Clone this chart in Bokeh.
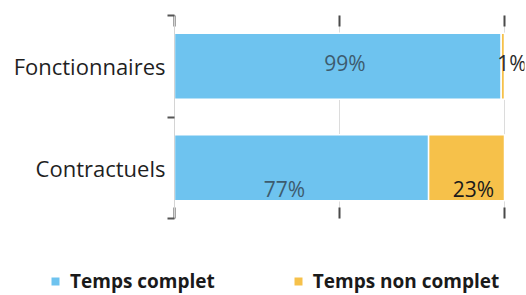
from bokeh.plotting import figure
from bokeh.models import (ColumnDataSource, FixedTicker, LinearAxis, Legend, LegendItem,
                          LabelSet, Range1d)
from bokeh.layouts import column, row
from bokeh.core.properties import value
from bokeh.embed import file_html
from bokeh.resources import INLINE

# ---- data ----
categories = ["Contractuels", "Fonctionnaires"]   # bottom to top
temps_complet = [77, 99]
temps_non_complet = [23, 1]
series_names = ["Temps complet", "Temps non complet"]
x_ticks = [0, 50, 100]

BLUE = "#6EC3EF"
YELLOW = "#F6C14A"
FONT = "Open Sans"

FRAME_W = 350
AXIS_W = 330  # pixels between 0 and 100

ypos = [i + 0.5 for i in range(len(categories))]
src = ColumnDataSource(dict(y=ypos, cat=categories,
                            full=temps_complet, part=temps_non_complet))

p = figure(width=526, height=230, frame_width=FRAME_W, frame_height=203,
           x_range=Range1d(0, x_ticks[-1] * FRAME_W / AXIS_W),
           y_range=Range1d(0, len(categories)),
           output_backend="svg", toolbar_location=None,
           min_border_left=174, min_border_top=15, min_border_right=2,
           min_border_bottom=12, x_axis_location=None)
p.outline_line_color = None
p.background_fill_color = "white"
p.border_fill_color = "white"

renderers = p.hbar_stack(["full", "part"], y="y", height=0.65, source=src,
                         color=[BLUE, YELLOW], line_color="white", line_width=1.5)

# grid
p.xgrid.ticker = FixedTicker(ticks=x_ticks)
p.xgrid.grid_line_color = "#dcdcdc"
p.ygrid.grid_line_color = None

# top/bottom tick-only axes
for loc in ("above", "below"):
    ax = LinearAxis(ticker=FixedTicker(ticks=x_ticks, minor_ticks=[]))
    ax.axis_line_color = None
    ax.major_tick_in = 11
    ax.major_tick_out = 0
    ax.major_tick_line_color = "#4a4a4a"
    ax.major_tick_line_width = 2
    ax.minor_tick_line_color = None
    ax.major_label_overrides = {t: "" for t in x_ticks}
    ax.major_label_text_font_size = "8px"
    ax.major_label_standoff = 0
    p.add_layout(ax, loc)

# y axis
yax = p.yaxis[0]
yax.ticker = FixedTicker(ticks=ypos, minor_ticks=list(range(len(categories) + 1)))
yax.major_label_overrides = {y: c for y, c in zip(ypos, categories)}
yax.major_tick_out = 0
yax.major_tick_in = 0
yax.minor_tick_out = 7
yax.minor_tick_in = 0
yax.minor_tick_line_color = "#555555"
yax.minor_tick_line_width = 2
yax.axis_line_color = "#d4d4d4"
yax.axis_line_width = 1
yax.major_label_text_font = FONT
yax.major_label_text_font_size = "22px"
yax.major_label_text_color = "#1f1f1f"
yax.major_label_standoff = 2

# value labels
lab_x, lab_y, lab_t, lab_c, lab_dx, lab_dy = [], [], [], [], [], []
full_colors = ["#3d5b6e", "#3d5b6e"]
part_colors = ["#1a1a1a", "#2a2a2a"]
full_dx = [-17, 7]
part_dx = [7, 9]
row_dy = [-21, 3]
for i, (f, q) in enumerate(zip(temps_complet, temps_non_complet)):
    lab_x += [f / 2, f + q / 2]
    lab_y += [ypos[i], ypos[i]]
    lab_t += [f"{f}%", f"{q}%"]
    lab_c += [full_colors[i], part_colors[i]]
    lab_dx += [full_dx[i], part_dx[i]]
    lab_dy += [row_dy[i], row_dy[i]]
lsrc = ColumnDataSource(dict(x=lab_x, y=lab_y, t=lab_t, c=lab_c, dx=lab_dx, dy=lab_dy))
labels = LabelSet(x="x", y="y", text="t", source=lsrc, text_color="c",
                  x_offset="dx", y_offset="dy", text_align="center",
                  text_baseline="middle", text_font=value(FONT), text_font_size="21px")
p.add_layout(labels)

# legend strip below the chart (its bars lie outside its visible range)
pl = figure(width=526, height=65, x_range=Range1d(0, 100),
            y_range=Range1d(10, 11),
            output_backend="svg", toolbar_location=None,
            min_border=0, min_border_left=0, min_border_right=0,
            min_border_top=0, min_border_bottom=0,
            x_axis_location=None, y_axis_location=None)
pl.outline_line_color = None
pl.grid.visible = False
leg_r = pl.hbar_stack(["full", "part"], y="y", height=0.65, source=src,
                      color=[BLUE, YELLOW], line_color=None)
legend = Legend(items=[LegendItem(label=n, renderers=[r]) for n, r in zip(series_names, leg_r)],
                orientation="horizontal", location=(50, 1),
                glyph_width=10, glyph_height=10, label_standoff=10, spacing=78,
                padding=0, margin=0, border_line_color=None, background_fill_alpha=0,
                label_text_font=FONT, label_text_font_size="19px",
                label_text_font_style="bold", label_text_color="#1a1a1a")
pl.add_layout(legend)

open("out.html", "w").write(file_html(column(p, row(pl), spacing=0), INLINE))
